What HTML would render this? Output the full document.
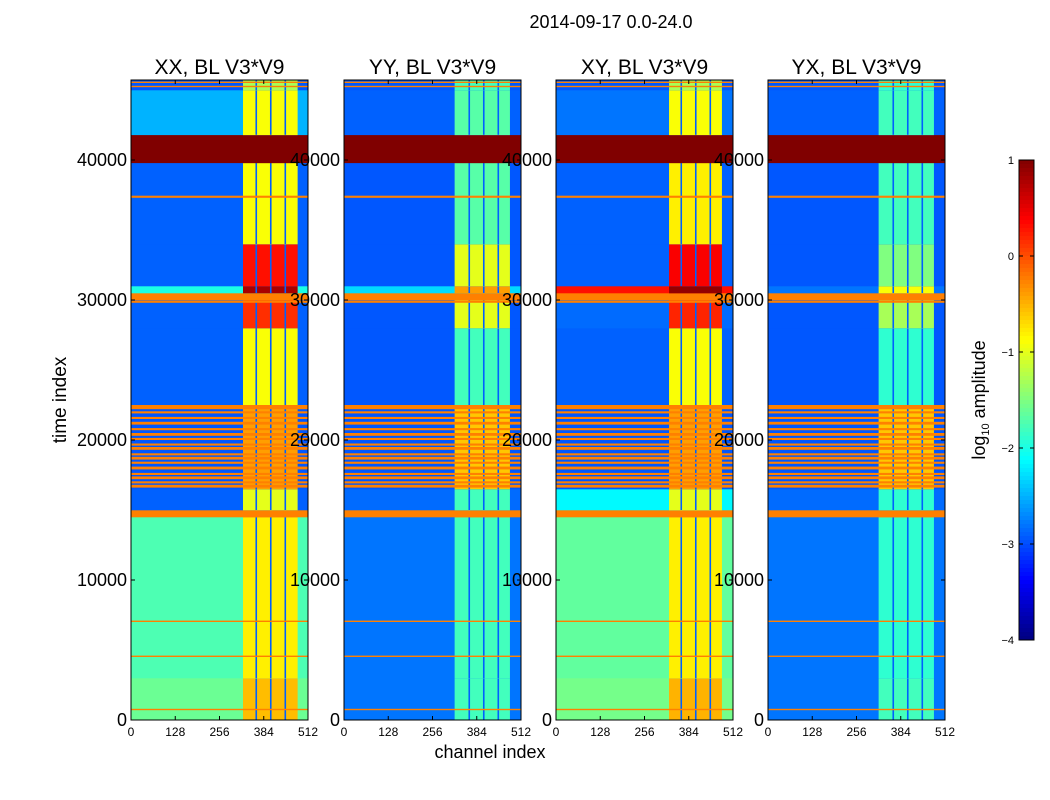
<!DOCTYPE html>
<html><head><meta charset="utf-8">
<style>
body{margin:0;background:#fff;}
svg{display:block;font-family:"Liberation Sans","DejaVu Sans",sans-serif;}
</style></head>
<body>
<svg id="fig" width="1050" height="800" xmlns="http://www.w3.org/2000/svg">
<rect width="1050" height="800" fill="#fff"/>
<text x="611" y="28" font-size="18" text-anchor="middle">2014-09-17 0.0-24.0</text>
<text transform="translate(66,400) rotate(-90)" font-size="19" text-anchor="middle">time index</text>
<text x="490" y="758" font-size="18" text-anchor="middle">channel index</text>
<g id="panels"></g>
<g id="cbar"></g>
</svg>
<script>
// ---- data ----
const panelTitles = ["XX, BL V3*V9","YY, BL V3*V9","XY, BL V3*V9","YX, BL V3*V9"];
const panelLefts = [131,344,556,768];
const xTicks = [0,128,256,384,512];
const yTicks = [0,10000,20000,30000,40000];
const cbarTicks = [1,0,-1,-2,-3,-4];
const segStart = [0,3000,14500,15000,16500,22500,28000,30000,30500,31000,34000,39800,41800,45000];
const segEnd   = [3000,14500,15000,16500,22500,28000,30000,30500,31000,34000,39800,41800,45000,45700];
const bgXX = [-1.6,-1.75,-0.25,-2.9,-2.95,-2.9,-2.9,-0.25,-2.0,-2.9,-2.9,1.0,-2.5,-2.95];
const bgYY = [-2.8,-2.8,-0.25,-2.85,-2.95,-2.95,-2.95,-0.25,-2.3,-2.95,-2.95,1.0,-2.9,-2.95];
const bgXY = [-1.55,-1.65,-0.25,-2.15,-2.95,-2.9,-2.85,-0.25,0.3,-2.9,-2.9,1.0,-2.8,-2.95];
const bgYX = [-2.8,-2.8,-0.25,-2.85,-2.95,-2.95,-2.95,-0.25,-2.8,-2.95,-2.95,1.0,-2.9,-2.95];
const bandXX = [-0.55,-0.8,-0.25,-1.0,-0.4,-0.9,0.15,-0.25,0.8,0.3,-0.9,1.0,-0.9,-1.3];
const bandYY = [-1.8,-1.8,-0.25,-1.8,-0.6,-1.8,-1.0,-0.25,-0.4,-1.0,-1.7,1.0,-1.7,-1.8];
const bandXY = [-0.5,-0.8,-0.25,-1.0,-0.4,-0.9,0.2,-0.25,0.9,0.4,-0.8,1.0,-0.9,-1.3];
const bandYX = [-1.8,-1.9,-0.25,-1.9,-0.6,-1.9,-1.3,-0.25,-0.9,-1.5,-1.8,1.0,-1.8,-1.9];
const bandStart = [324,320,327,320];
const bandEnd = [482,480,480,480];
const dividerChannels = [360,402,444];
const flagTimes = [700,4500,7000,16600,16900,17200,17500,17900,18300,18600,18900,19300,19600,20000,20300,20700,21100,21500,21900,22200,29800,37300,45200,45500];
const flagWidths = [100,100,100,200,150,200,150,200,150,200,150,200,150,150,200,150,200,150,150,300,150,150,100,100];

{
const bgs=[bgXX,bgYY,bgXY,bgYX], bands=[bandXX,bandYY,bandXY,bandYX];
const NS="http://www.w3.org/2000/svg";
const topY=80,botY=720,pw=177,tMax=45714,vmin=-4,vmax=1;
function yS(t){return botY-(t/tMax)*(botY-topY);}
function xS(c,l){return l+c/512*pw;}
function jet(v){let x=(v-vmin)/(vmax-vmin);x=Math.max(0,Math.min(1,x));
 const f=(a)=>Math.max(0,Math.min(1,1.5-Math.abs(4*x-a)));
 const r=f(3),g=f(2),b=f(1);return `rgb(${Math.round(r*255)},${Math.round(g*255)},${Math.round(b*255)})`;}
function mk(tag,attrs,parent){const e=document.createElementNS(NS,tag);for(const k in attrs)e.setAttribute(k,attrs[k]);parent.appendChild(e);return e;}
const root=document.getElementById('panels');
panelLefts.forEach((l,p)=>{
 const g=mk('g',{},root);
 
 
 const hm=mk('g',{},g);
 
 
 for(let i=0;i<segStart.length;i++){
  const y0=yS(segEnd[i]),y1=yS(segStart[i]);
  const r=mk('rect',{x:l,y:y0,width:pw,height:y1-y0+0.3,fill:jet(bgs[p][i])},hm);
  
  
  const bx0=xS(bandStart[p],l),bx1=xS(bandEnd[p],l);
  const b=mk('rect',{x:bx0,y:y0,width:bx1-bx0,height:y1-y0+0.3,fill:jet(bands[p][i])},hm);
  
  
  if(bands[p][i]<0.9 && !(segStart[i]===14500||segStart[i]===30000)){
   dividerChannels.forEach(c=>{
    const d=mk('rect',{x:xS(c,l),y:y0,width:1.6,height:y1-y0,fill:jet(-2.9)},hm);
    
    
   });
  }
 }
 flagTimes.forEach((t,k)=>{
  const y0=yS(t+flagWidths[k]),y1=yS(t);
  const f=mk('rect',{x:l,y:y0,width:pw,height:Math.max(1,y1-y0),fill:jet(-0.25)},hm);
  
  
 });
 const fr=mk('rect',{x:l,y:topY,width:pw,height:botY-topY,fill:'none',stroke:'#000','stroke-width':1},g);
 
 
 const tt=mk('text',{x:l+pw/2,y:74,'font-size':21,'text-anchor':'middle'},g);tt.textContent=panelTitles[p];
 
 
 xTicks.forEach(c=>{const x=xS(c,l);
  mk('line',{x1:x,x2:x,y1:botY,y2:botY-4,stroke:'#000'},g);mk('line',{x1:x,x2:x,y1:topY,y2:topY+4,stroke:'#000'},g);
  const t=mk('text',{x:x,y:botY+16,'font-size':12,'text-anchor':'middle'},g);t.textContent=c;
  
  });
 yTicks.forEach(v=>{const y=yS(v);
  mk('line',{x1:l,x2:l+4,y1:y,y2:y,stroke:'#000'},g);mk('line',{x1:l+pw,x2:l+pw-4,y1:y,y2:y,stroke:'#000'},g);
  const t=mk('text',{x:l-4,y:y+6,'font-size':18,'text-anchor':'end'},g);t.textContent=v;
  
  });
});
const cb=document.getElementById('cbar');
const cx=1019,cw=15,cy0=160,cy1=640;
for(let i=0;i<120;i++){const v=vmax-(i+0.5)/120*(vmax-vmin);
 mk('rect',{x:cx,y:cy0+i*(cy1-cy0)/120,width:cw,height:(cy1-cy0)/120+0.5,fill:jet(v)},cb);}
mk('rect',{x:cx,y:cy0,width:cw,height:cy1-cy0,fill:'none',stroke:'#000'},cb);
cbarTicks.forEach(v=>{const y=cy0+(vmax-v)/(vmax-vmin)*(cy1-cy0);
 mk('line',{x1:cx,x2:cx+4,y1:y,y2:y,stroke:'#000'},cb);mk('line',{x1:cx+cw,x2:cx+cw-4,y1:y,y2:y,stroke:'#000'},cb);
 const t=mk('text',{x:cx-5,y:y+4,'font-size':11,'text-anchor':'end'},cb);t.textContent=v<0?'\u2212'+(-v):v;
 
 });
const cl=mk('text',{transform:'translate(985,400) rotate(-90)','font-size':18,'text-anchor':'middle'},cb);
cl.innerHTML='log<tspan font-size="11" dy="4">10</tspan><tspan dy="-4"> amplitude</tspan>';


}
</script>
</body></html>
